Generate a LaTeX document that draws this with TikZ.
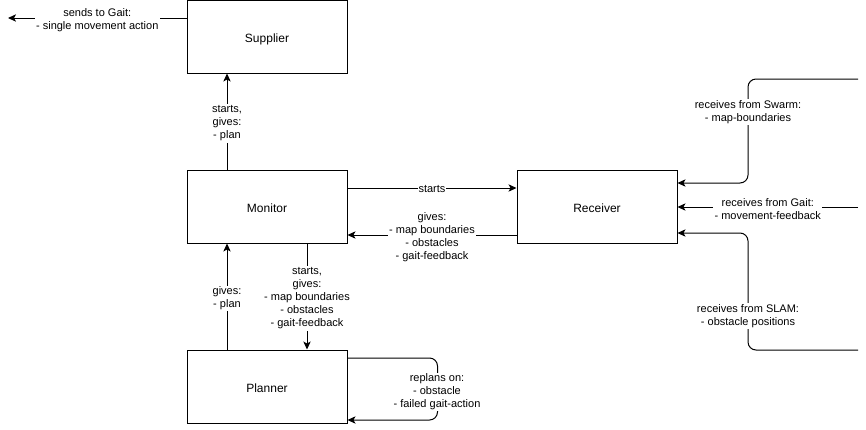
\documentclass[tikz,border=0pt]{standalone}
\usepackage{fontspec}
\setmainfont{Liberation Sans}
\usetikzlibrary{arrows.meta,calc}
\begin{document}
\begin{tikzpicture}[x=0.75pt,y=-0.75pt,
  box/.style={draw,line width=0.75pt,minimum width=120pt,minimum height=54.75pt,inner sep=0pt,text height=0.88em,text depth=0pt,font=\fontsize{9pt}{11pt}\selectfont},
  arr/.style={draw,line width=0.75pt,-{Stealth[length=6pt,width=5.5pt,inset=1.5pt]}},
  lbl/.style={fill=white,align=center,inner sep=1pt,yshift=-1.5pt,font=\fontsize{8.25pt}{9.75pt}\selectfont}]
\useasboundingbox (0,0) rectangle (866,429);
\node[box] (supplier) at (267,36.5) {Supplier};
\node[box] (monitor) at (267,206.5) {Monitor};
\node[box] (receiver) at (597,206.5) {Receiver};
\node[box] (planner) at (267,386.5) {Planner};
\coordinate (gaitout) at (8,18);
\coordinate (swarmin) at (858,79);
\coordinate (gaitin) at (858,207);
\coordinate (slamin) at (858,350);
% supplier -> gait
\draw[arr] ($(supplier.west)+(0,-18.5)$) -- node[lbl,pos=0.5] {sends to Gait:\\- single movement action} (gaitout);
% monitor -> supplier
\draw[arr] ($(monitor.north)+(-40,0)$) -- node[lbl] {starts,\\gives:\\- plan} ($(supplier.south)+(-40,0)$);
% monitor -> receiver
\draw[arr] ($(monitor.east)+(0,-18.5)$) -- node[lbl,inner sep=0.5pt,yshift=0.5pt] {starts} ($(receiver.west)+(0,-18.5)$);
% receiver -> monitor
\draw[arr] ($(receiver.west)+(0,28.5)$) -- node[lbl] {gives:\\- map boundaries\\- obstacles\\- gait-feedback} ($(monitor.east)+(0,28.5)$);
% monitor -> planner
\draw[arr] ($(monitor.south)+(40,0)$) -- node[lbl] {starts,\\gives:\\- map boundaries\\- obstacles\\- gait-feedback} ($(planner.north)+(40,0)$);
% planner -> monitor
\draw[arr] ($(planner.north)+(-40,0)$) -- node[lbl] {gives:\\- plan} ($(monitor.south)+(-40,0)$);
% planner self loop
\draw[arr,rounded corners=6pt] ($(planner.east)+(0,-28.5)$) -- ++(90,0) -- ++(0,62) -- ($(planner.east)+(0,33.5)$);
\node[lbl] (replan) at (437,390) {replans on:\\- obstacle\\- failed gait-action};
% right side inputs
\draw[arr,rounded corners=6pt] (swarmin) -- (748,79) -- (748,183) -- ($(receiver.east)+(0,-23.5)$);
\node[lbl] (swarmlbl) at (748,110) {receives from Swarm:\\- map-boundaries};
\draw[arr] (gaitin) -- node[lbl,pos=0.5] {receives from Gait:\\- movement-feedback} ($(receiver.east)+(0,0.5)$);
\draw[arr,rounded corners=6pt] (slamin) -- (748,350) -- (748,233) -- ($(receiver.east)+(0,26.5)$);
\node[lbl] (slamlbl) at (748,314) {receives from SLAM:\\- obstacle positions};
\end{tikzpicture}
\end{document}
